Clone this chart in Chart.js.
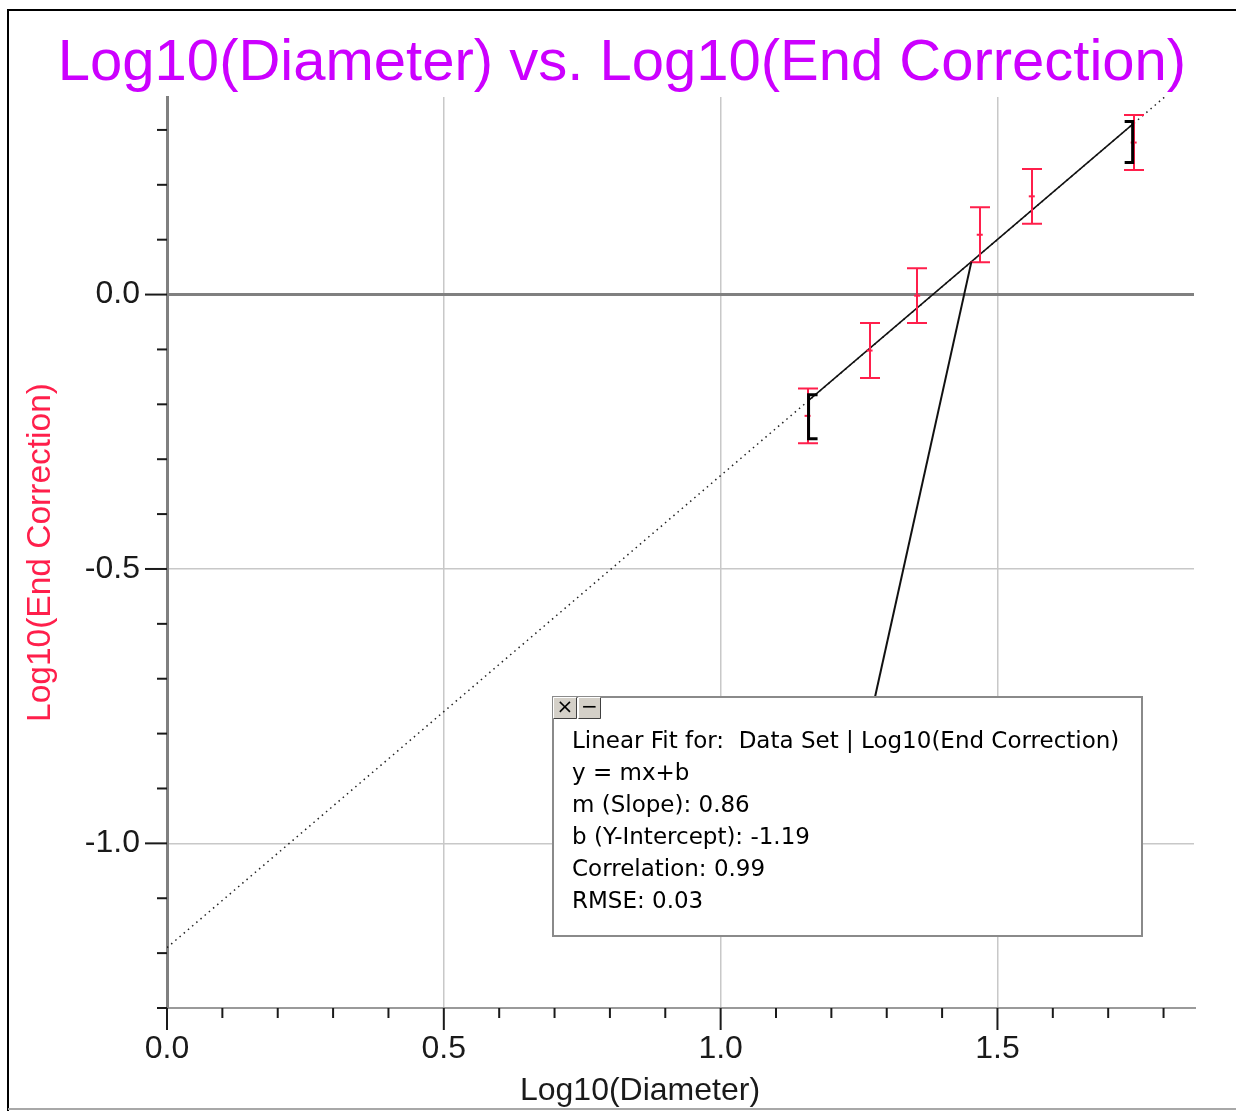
<!DOCTYPE html>
<html>
<head>
<meta charset="utf-8">
<script src="https://cdn.jsdelivr.net/npm/chart.js@4/dist/chart.umd.min.js"></script>
<style>
  html, body { margin: 0; padding: 0; background: #ffffff; }
  canvas { display: block; }
</style>
</head>
<body>
<canvas id="c" width="1236" height="1111"></canvas>
<script>
// ---- data ----
const xVals = [1.157, 1.269, 1.355, 1.468, 1.562, 1.746];      // Log10(Diameter)
const yVals = [-0.221, -0.102, -0.002, 0.109, 0.179, 0.277];   // Log10(End Correction)
const yErr  = [0.05, 0.05, 0.05, 0.05, 0.05, 0.05];

// linear fit line (y = 0.86x - 1.19), extended dotted and fitted-range solid
const fitDotX = [0, 1.802];
const fitDotY = [-1.19, 0.36];
const fitSolidX = [1.16, 1.745];
const fitSolidY = [-0.192, 0.311];
// callout anchor on the fit line
const calloutPt = [1.453, 0.06];

const xTickLabels = ['0.0', '0.5', '1.0', '1.5'];
const yTickLabels = ['-1.0', '-0.5', '0.0'];

const titleText = 'Log10(Diameter) vs. Log10(End Correction)';
const xTitle = 'Log10(Diameter)';
const yTitle = 'Log10(End Correction)';
const fitLines = [
  'Linear Fit for:  Data Set | Log10(End Correction)',
  'y = mx+b',
  'm (Slope): 0.86',
  'b (Y-Intercept): -1.19',
  'Correlation: 0.99',
  'RMSE: 0.03'
];

const RED = '#ff1f4b';
const SANS = '"Liberation Sans", Arial, sans-serif';

const pts = xVals.map((x, i) => ({ x: x, y: yVals[i] }));
const dotPts = fitDotX.map((x, i) => ({ x: x, y: fitDotY[i] }));
const solidPts = fitSolidX.map((x, i) => ({ x: x, y: fitSolidY[i] }));

const decorPlugin = {
  id: 'decor',
  beforeDraw(chart) {
    const ctx = chart.ctx;
    ctx.save();
    ctx.fillStyle = '#ffffff';
    ctx.fillRect(0, 0, chart.width, chart.height);
    // chart title
    ctx.fillStyle = '#cc00ff';
    ctx.font = '58px ' + SANS;
    ctx.textAlign = 'center';
    ctx.textBaseline = 'alphabetic';
    ctx.fillText(titleText, 622, 80);
    ctx.restore();
  },
  afterDatasetsDraw(chart) {
    const ctx = chart.ctx;
    const xs = chart.scales.x, ys = chart.scales.y;
    ctx.save();
    // error bars
    ctx.strokeStyle = RED;
    ctx.lineWidth = 2;
    for (let i = 0; i < xVals.length; i++) {
      const px = Math.round(xs.getPixelForValue(xVals[i]));
      const pTop = ys.getPixelForValue(yVals[i] + yErr[i]);
      const pBot = ys.getPixelForValue(yVals[i] - yErr[i]);
      ctx.beginPath();
      ctx.moveTo(px, pTop); ctx.lineTo(px, pBot);
      ctx.moveTo(px - 10, pTop); ctx.lineTo(px + 10, pTop);
      ctx.moveTo(px - 10, pBot); ctx.lineTo(px + 10, pBot);
      ctx.stroke();
    }
    // range brackets at first / last point
    ctx.strokeStyle = '#000000';
    ctx.lineWidth = 3;
    const first = 0, last = xVals.length - 1;
    let bx = xs.getPixelForValue(xVals[first]) + 1;
    let by = ys.getPixelForValue(yVals[first]);
    ctx.beginPath();
    ctx.moveTo(bx + 9, by - 21); ctx.lineTo(bx, by - 21); ctx.lineTo(bx, by + 23); ctx.lineTo(bx + 9, by + 23);
    ctx.stroke();
    bx = xs.getPixelForValue(xVals[last]) - 1;
    by = ys.getPixelForValue(yVals[last]);
    ctx.beginPath();
    ctx.moveTo(bx - 8, by - 21); ctx.lineTo(bx, by - 21); ctx.lineTo(bx, by + 20); ctx.lineTo(bx - 8, by + 20);
    ctx.stroke();

    // tick marks
    ctx.strokeStyle = '#1a1a1a';
    ctx.lineWidth = 2;
    const axY = chart.chartArea.bottom;
    for (let k = 0; k <= Math.floor(xs.max * 10 + 1e-6); k++) {
      const v = k / 10;
      const px = xs.getPixelForValue(v);
      const major = k % 5 === 0;
      ctx.beginPath();
      ctx.moveTo(px, axY);
      ctx.lineTo(px, axY + (major ? 22 : 10));
      ctx.stroke();
    }
    const axX = chart.chartArea.left;
    for (let k = Math.ceil(ys.min * 10 - 1e-6); k <= Math.floor(ys.max * 10 + 1e-6); k++) {
      const v = k / 10;
      const py = ys.getPixelForValue(v);
      const major = k % 5 === 0;
      ctx.beginPath();
      ctx.moveTo(axX, py);
      ctx.lineTo(axX - (major ? 22 : 10), py);
      ctx.stroke();
    }

    // callout line from fit line to box
    const box = { x: 553, y: 697, w: 589, h: 239 };
    ctx.strokeStyle = '#111111';
    ctx.lineWidth = 2;
    ctx.beginPath();
    ctx.moveTo(xs.getPixelForValue(calloutPt[0]), ys.getPixelForValue(calloutPt[1]));
    ctx.lineTo(875, box.y);
    ctx.stroke();

    // fit statistics box
    ctx.fillStyle = '#ffffff';
    ctx.fillRect(box.x, box.y, box.w, box.h);
    ctx.strokeStyle = '#8a8a8a';
    ctx.lineWidth = 2;
    ctx.strokeRect(box.x, box.y, box.w, box.h);
    // close / minimize buttons
    const btns = [{ x: 553, w: 24, g: '×' }, { x: 578, w: 23, g: '−' }];
    btns.forEach(b => {
      ctx.fillStyle = '#d4d0c8';
      ctx.fillRect(b.x, box.y, b.w, 22);
      ctx.strokeStyle = '#ffffff';
      ctx.lineWidth = 1;
      ctx.beginPath();
      ctx.moveTo(b.x + 0.5, box.y + 21.5); ctx.lineTo(b.x + 0.5, box.y + 0.5); ctx.lineTo(b.x + b.w - 0.5, box.y + 0.5);
      ctx.stroke();
      ctx.strokeStyle = '#404040';
      ctx.beginPath();
      ctx.moveTo(b.x + b.w - 0.5, box.y + 0.5); ctx.lineTo(b.x + b.w - 0.5, box.y + 21.5); ctx.lineTo(b.x + 0.5, box.y + 21.5);
      ctx.stroke();
      ctx.fillStyle = '#000000';
      ctx.font = '20px "DejaVu Sans", sans-serif';
      ctx.textAlign = 'center';
      ctx.textBaseline = 'middle';
      ctx.fillText(b.g, b.x + b.w / 2, box.y + 11);
    });
    ctx.fillStyle = '#000000';
    ctx.font = '23px "DejaVu Sans", sans-serif';
    ctx.textAlign = 'left';
    ctx.textBaseline = 'alphabetic';
    fitLines.forEach((t, i) => ctx.fillText(t, 572, 748 + i * 32));

    // x-axis title
    ctx.fillStyle = '#1a1a1a';
    ctx.font = '32px ' + SANS;
    ctx.textAlign = 'center';
    ctx.fillText(xTitle, 640, 1100);

    // outer frame
    ctx.strokeStyle = '#000000';
    ctx.lineWidth = 2;
    ctx.beginPath();
    ctx.moveTo(8, 1111); ctx.lineTo(8, 10); ctx.lineTo(1236, 10);
    ctx.stroke();
    ctx.strokeStyle = '#a8a8a8';
    ctx.beginPath();
    ctx.moveTo(8, 1109); ctx.lineTo(1236, 1109);
    ctx.stroke();
    ctx.restore();
  }
};

new Chart(document.getElementById('c'), {
  data: {
    datasets: [
      {
        type: 'line', label: 'fit extended', data: dotPts,
        borderColor: '#222222', borderWidth: 1.5, borderDash: [1.5, 4],
        pointRadius: 0, fill: false, order: 3
      },
      {
        type: 'line', label: 'fit', data: solidPts,
        borderColor: '#111111', borderWidth: 1.5,
        pointRadius: 0, fill: false, order: 2
      },
      {
        type: 'scatter', label: 'Data Set', data: pts,
        pointStyle: 'line', pointRadius: 3, borderColor: RED, backgroundColor: RED,
        borderWidth: 2, order: 1
      }
    ]
  },
  options: {
    responsive: false,
    devicePixelRatio: 1,
    animation: false,
    events: [],
    layout: { padding: { top: 97, left: 8, right: 42, bottom: 0 } },
    plugins: {
      legend: { display: false },
      tooltip: { enabled: false },
      title: { display: false }
    },
    scales: {
      x: {
        type: 'linear', min: 0, max: 1.855,
        afterFit: s => { s.height = 103; },
        ticks: {
          stepSize: 0.5, includeBounds: false, padding: 22,
          color: '#1a1a1a', font: { family: SANS, size: 32 },
          callback: (v) => { const i = Math.round(v / 0.5); return xTickLabels[i] !== undefined ? xTickLabels[i] : ''; }
        },
        grid: {
          drawTicks: false,
          color: c => (c.tick && c.tick.value === 0) ? '#808080' : '#c8c8c8',
          lineWidth: c => (c.tick && c.tick.value === 0) ? 3 : 1.5
        },
        border: { display: true, color: '#9a9a9a', width: 2 }
      },
      y: {
        type: 'linear', min: -1.3, max: 0.36,
        afterFit: s => { s.width = 159; },
        ticks: {
          stepSize: 0.5, includeBounds: false, padding: 27,
          color: '#1a1a1a', font: { family: SANS, size: 32 },
          callback: (v) => { const i = Math.round(v / 0.5) + 2; return yTickLabels[i] !== undefined ? yTickLabels[i] : ''; }
        },
        grid: {
          drawTicks: false,
          color: c => (c.tick && c.tick.value === 0) ? '#808080' : '#c8c8c8',
          lineWidth: c => (c.tick && c.tick.value === 0) ? 3 : 1.5
        },
        border: { display: true, color: '#808080', width: 3 },
        title: {
          display: true, text: yTitle, color: RED,
          font: { family: SANS, size: 33.5, lineHeight: 1.2 },
          padding: { top: 13, bottom: 0 }
        }
      }
    }
  },
  plugins: [decorPlugin]
});
</script>
</body>
</html>
